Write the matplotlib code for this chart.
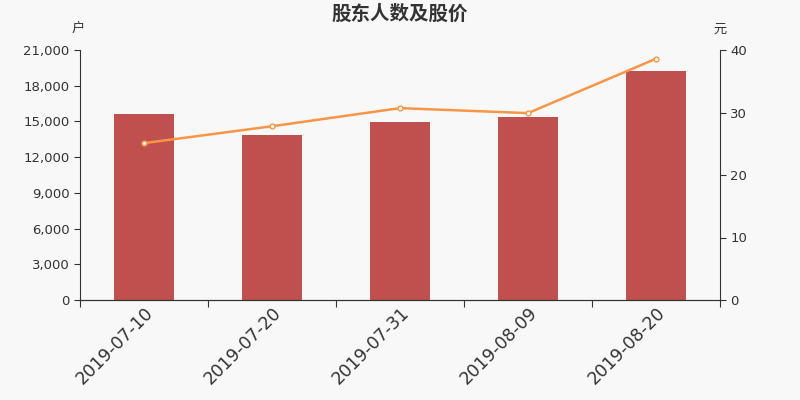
import matplotlib
matplotlib.use("Agg")
import matplotlib.pyplot as plt
from matplotlib.ticker import FuncFormatter, MultipleLocator

plt.rcParams['font.family'] = ['DejaVu Sans', 'Noto Sans CJK SC']

# 数据
dates = ['2019-07-10', '2019-07-20', '2019-07-31', '2019-08-09', '2019-08-20']
holders = [15620, 13900, 14910, 15410, 19200]
prices = [25.1, 27.8, 30.7, 29.9, 38.6]

bg = '#f8f8f8'
fig = plt.figure(figsize=(8, 4), dpi=100, facecolor=bg)
ax = fig.add_axes([0.1, 0.25, 0.8, 0.625], facecolor=bg)
ax2 = ax.twinx()

x = list(range(len(dates)))
ax.bar(x, holders, width=0.47, color='#c0504d', zorder=2)
ax2.plot(x, prices, color='#f79646', lw=1.8, marker='o', ms=3.5,
         mfc='white', mec='#f79646', mew=1, zorder=3)

ax.set_xlim(-0.5, len(dates) - 0.5)
ax.set_ylim(0, 21000)
ax2.set_ylim(0, 40)
ax.yaxis.set_major_locator(MultipleLocator(3000))
ax.yaxis.set_major_formatter(FuncFormatter(lambda v, p: f'{int(v):,}'))
ax2.yaxis.set_major_locator(MultipleLocator(10))

ax.set_xticks([i - 0.5 for i in range(len(dates) + 1)])
ax.set_xticklabels([])
ax.set_xticks(x, minor=True)
ax.set_xticklabels(dates, minor=True, rotation=45, ha='right', rotation_mode='anchor',
                   fontsize=12.5, color='#333333')
ax.tick_params(axis='x', which='minor', length=0, pad=3)
ax.tick_params(axis='x', which='major', length=5, color='#333333')

for a in (ax, ax2):
    a.spines['top'].set_visible(False)
    a.tick_params(axis='y', labelsize=9.5, colors='#333333', length=4)
    for sp in a.spines.values():
        sp.set_color('#333333')
ax.spines['right'].set_visible(False)
ax2.spines['left'].set_visible(False)

fig.text(0.5, 0.965, '股东人数及股价', ha='center', va='center', fontsize=14,
         fontweight='bold', color='#333333', family='Noto Sans CJK SC')
fig.text(0.098, 0.928, '户', ha='center', va='center', fontsize=9.5, color='#333333',
         family='Noto Sans CJK SC')
fig.text(0.9, 0.928, '元', ha='center', va='center', fontsize=9.5, color='#333333',
         family='Noto Sans CJK SC')

fig.savefig('out.png', dpi=100, facecolor=bg)
